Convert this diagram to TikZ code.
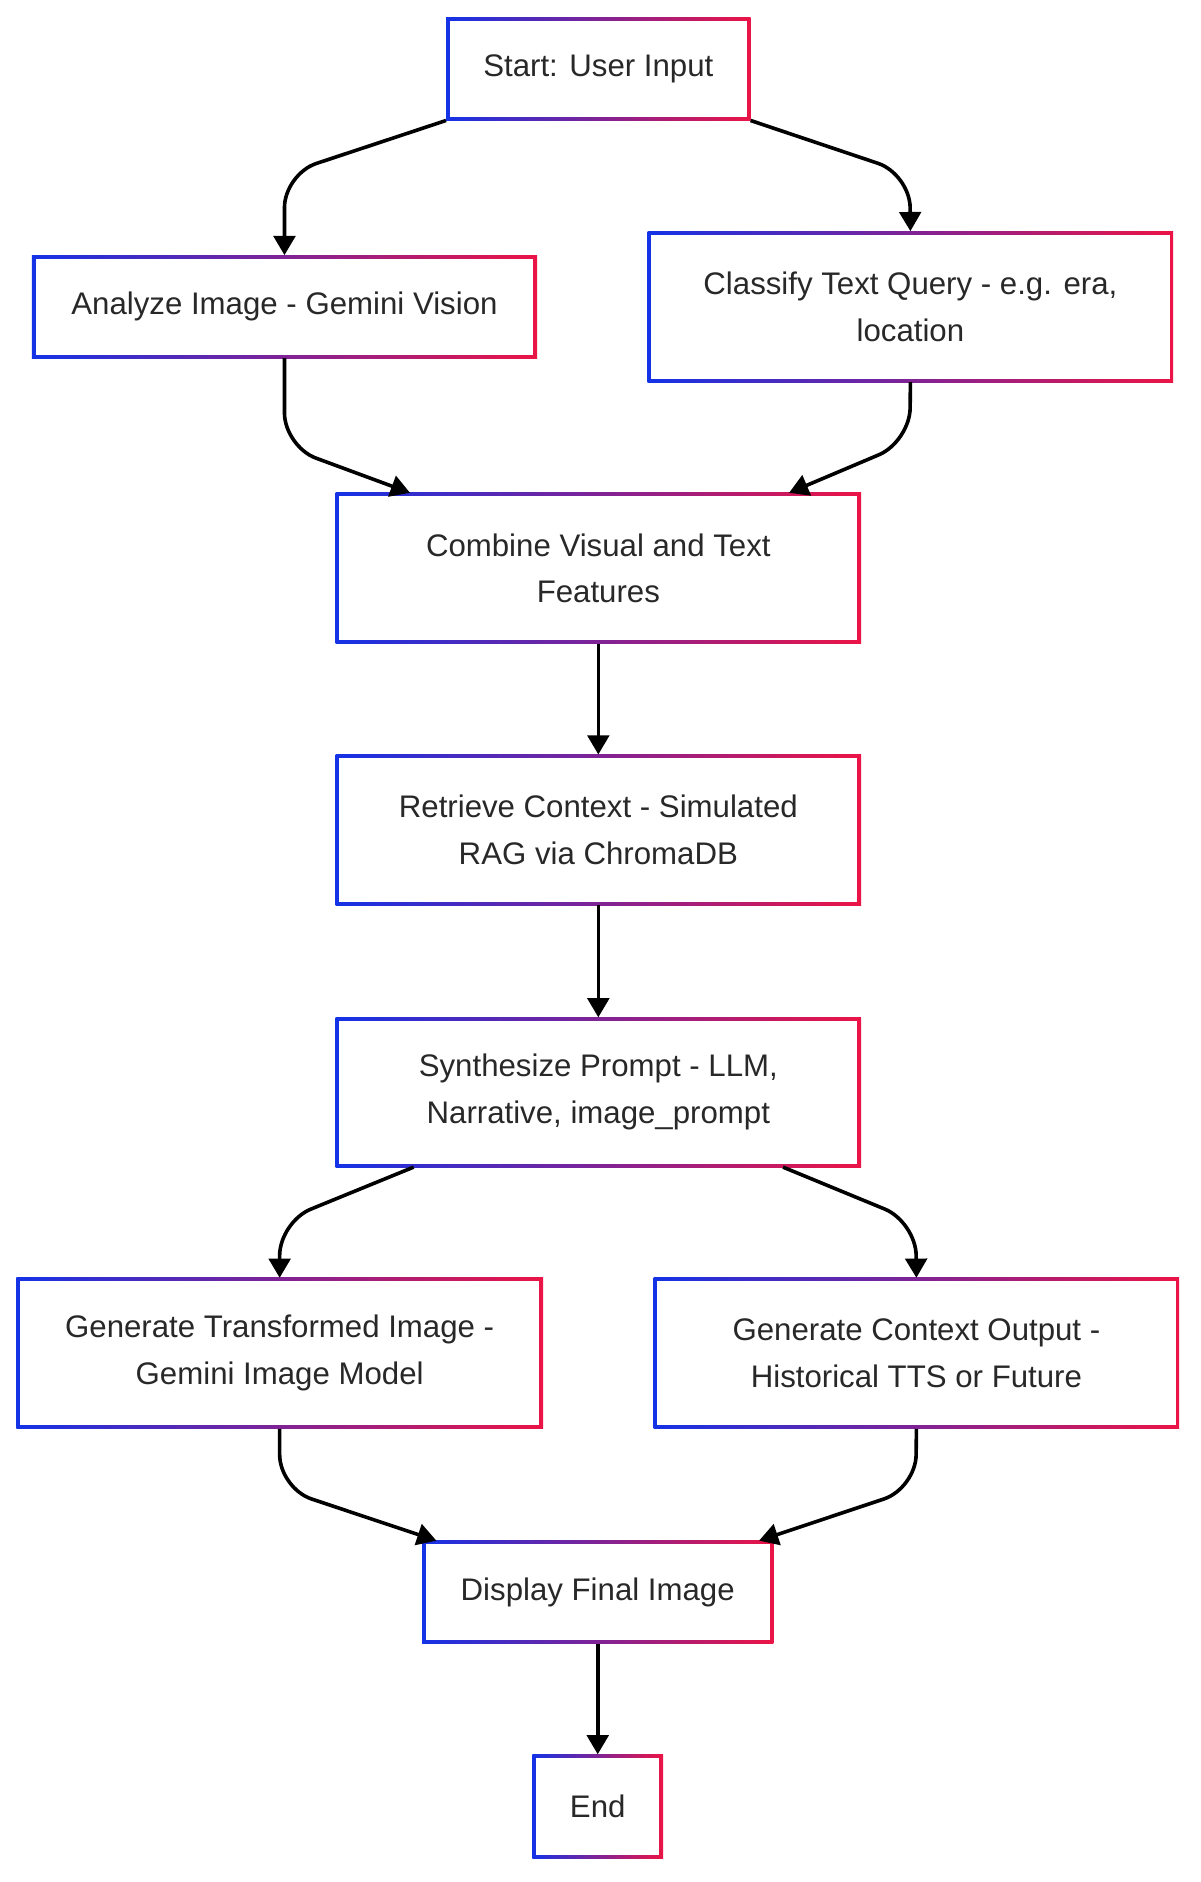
\documentclass[tikz,border=0pt]{standalone}
\usepackage{fontspec}
\setmainfont{Liberation Sans}
\usetikzlibrary{arrows.meta,calc,backgrounds}
\definecolor{bl}{RGB}{20,50,230}
\definecolor{rd}{RGB}{235,20,70}
\definecolor{tx}{RGB}{40,40,40}
\tikzset{
 box/.style={inner sep=0pt,align=center,font=\fontsize{13}{19.5}\selectfont,text=tx},
 arr/.style={line width=1.5pt,rounded corners=14pt,-{Triangle[length=8pt,width=9pt]}}
}
\newcommand{\bx}[6]{%
 \node[box,minimum width={(#4-#2)*0.5pt},minimum height={(#5-#3)*0.5pt}] (#1) at ({(#2+#4)/2},{(#3+#5)/2}) {#6};
 \begin{scope}[on background layer]
 \shade[left color=bl,right color=rd] (#1.south west) rectangle (#1.north east);
 \fill[white] ([shift={(1.5pt,1.5pt)}]#1.south west) rectangle ([shift={(-1.5pt,-1.5pt)}]#1.north east);
 \end{scope}}
\begin{document}
\begin{tikzpicture}[x=0.5pt,y=-0.5pt]
\useasboundingbox (0,0) rectangle (1000,1568);
\bx{s}{372}{15}{625}{100}{Start: User Input}
\bx{a}{27}{213}{447}{298}{Analyze Image - Gemini Vision}
\bx{c}{540}{193}{977}{318}{Classify Text Query - e.g. era,\\location}
\bx{cb}{280}{411}{717}{536}{Combine Visual and Text\\Features}
\bx{r}{280}{629}{717}{754}{Retrieve Context - Simulated\\RAG via ChromaDB}
\bx{sy}{280}{848}{717}{972}{Synthesize Prompt - LLM,\\Narrative, image\_prompt}
\bx{gt}{14}{1065}{452}{1190}{Generate Transformed Image -\\Gemini Image Model}
\bx{gc}{545}{1065}{982}{1190}{Generate Context Output -\\Historical TTS or Future}
\bx{d}{352}{1284}{644}{1369}{Display Final Image}
\bx{e}{444}{1462}{552}{1548}{End}
\draw[arr] (s.south west) -- (237,145) -- (a.north);
\draw[arr] (s.south east) -- (758,145) -- (c.north);
\draw[arr] (a.south) -- (237,372) -- ($(cb.north west)+(62,0)$);
\draw[arr] (c.south) -- (758,368) -- ($(cb.north east)+(-60,0)$);
\draw[arr] (cb) -- (r);
\draw[arr] (r) -- (sy);
\draw[arr] ($(sy.south west)+(65,0)$) -- (233,1018) -- (gt.north);
\draw[arr] ($(sy.south east)+(-65,0)$) -- (763,1018) -- (gc.north);
\draw[arr] (gt.south) -- (233,1240) -- ($(d.north west)+(12,0)$);
\draw[arr] (gc.south) -- (763,1240) -- ($(d.north east)+(-12,0)$);
\draw[arr] (d) -- (e);
\end{tikzpicture}
\end{document}
